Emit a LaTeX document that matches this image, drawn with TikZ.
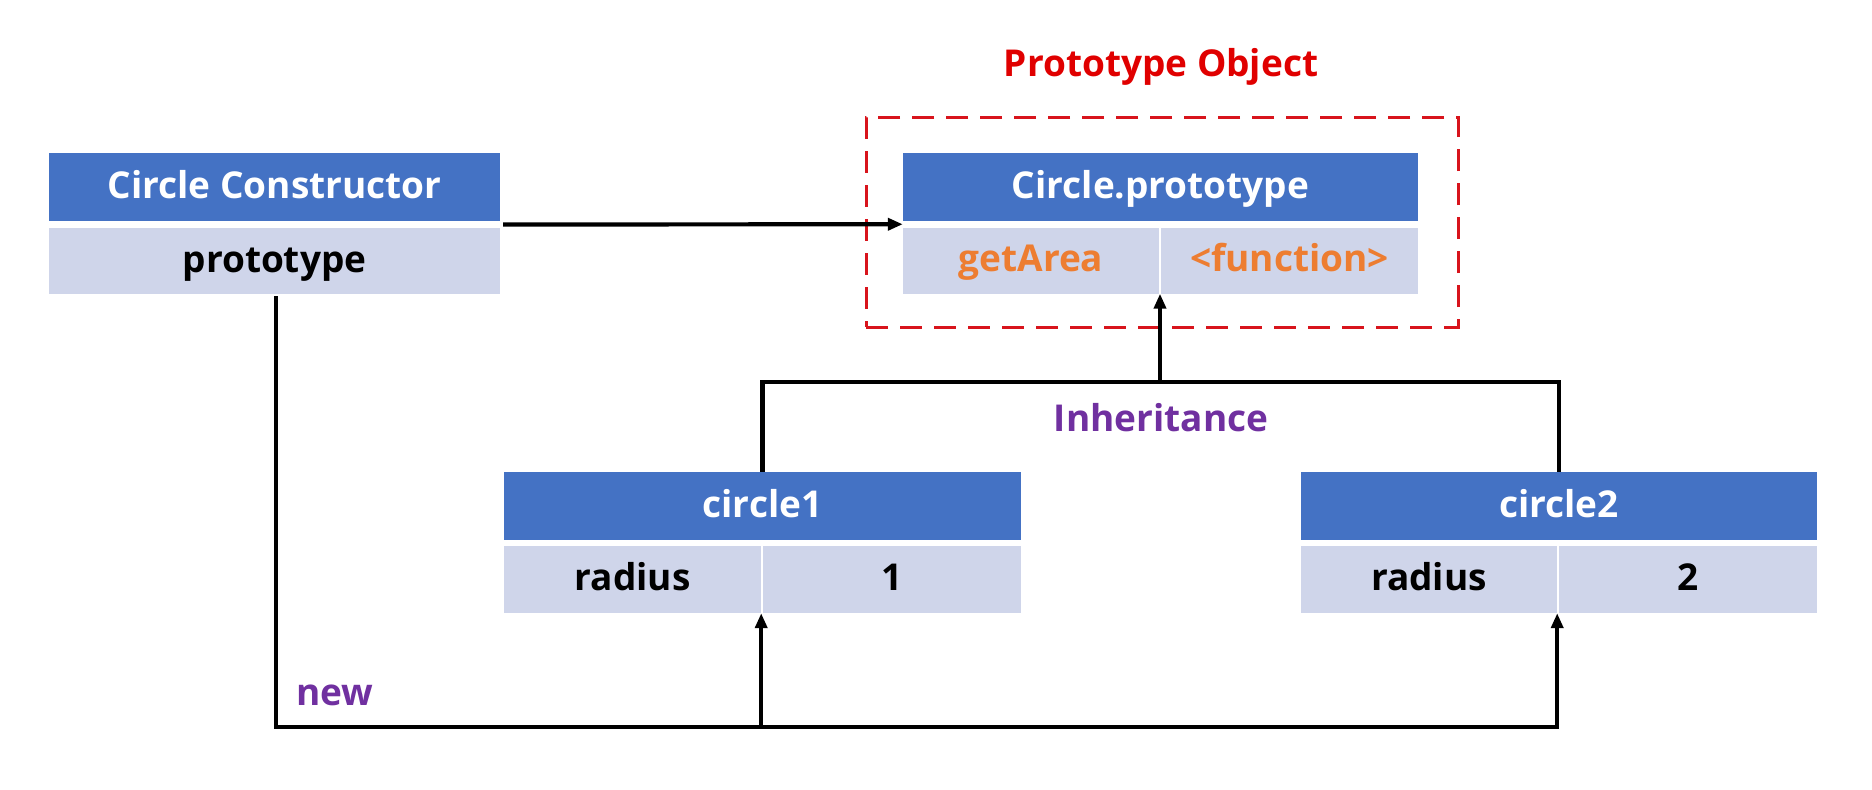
\documentclass[tikz,border=0pt]{standalone}
\usepackage{fontspec}
\setmainfont{Open Sans}
\usetikzlibrary{arrows.meta,calc}
\definecolor{hdrblue}{HTML}{4472C4}
\definecolor{rowfill}{HTML}{CFD5EA}
\definecolor{orangetxt}{HTML}{ED7D31}
\definecolor{lblpurple}{HTML}{7030A0}
\definecolor{titlered}{HTML}{E00000}
\definecolor{dashred}{HTML}{D8141C}
\begin{document}
\begin{tikzpicture}[x=1pt,y=-1pt,
  every node/.style={font=\fontsize{37}{44}\selectfont\bfseries, inner sep=0pt, text height=31pt, text depth=9pt},
  hdr/.style={fill=hdrblue, text=white, minimum height=68pt},
  cell/.style={fill=rowfill, text=black, minimum height=66pt},
  ln/.style={line width=4.2pt, black},
  arr/.style={ln, -{Triangle[length=15pt,width=12pt]}},
]
\useasboundingbox (0,0) rectangle (1872,790);
% Prototype object group
\node[draw=dashred, dash pattern=on 22pt off 12pt, line width=3pt, minimum width=592pt, minimum height=210pt] (pobox) at (1162,222) {};
\node[text=titlered] (potitle) at (1161,65) {Prototype Object};
\node[hdr, minimum width=515pt] (cph) at (1160.5,187) {Circle.prototype};
\node[cell, minimum width=256pt, text=orangetxt] (cpa) at (1031,260.5) {getArea};
\node[cell, minimum width=257pt, text=orangetxt] (cpb) at (1289.5,260.5) {<function>};
% constructor
\node[hdr, minimum width=451pt] (cch) at (274.5,187) {Circle Constructor};
\node[cell, minimum width=451pt] (ccr) at (274.5,261) {prototype};
% circle1
\node[hdr, minimum width=517pt] (c1h) at (762.5,506) {circle1};
\node[cell, minimum width=257pt, minimum height=67pt] (c1a) at (632.5,579.5) {radius};
\node[cell, minimum width=258pt, minimum height=67pt] (c1b) at (892,579.5) {1};
% circle2
\node[hdr, minimum width=516pt] (c2h) at (1559,506) {circle2};
\node[cell, minimum width=256pt, minimum height=67pt] (c2a) at (1429,579.5) {radius};
\node[cell, minimum width=258pt, minimum height=67pt] (c2b) at (1688,579.5) {2};
% labels
\node[text=lblpurple] (inhlbl) at (1161,420) {Inheritance};
\node[text=lblpurple] (newlbl) at (335,694) {new};
% connectors
\draw[arr] ($(cch.south east)!0.5!(ccr.north east)+(3,0)$) -- ($(cph.south west)!0.5!(cpa.north west)$);
\coordinate (inh) at (1160,382);
\draw[ln] (c1h.north) |- (inh) -| (c2h.north);
\draw[arr] (inh) -- (inh |- cpa.south);
\coordinate (newc) at (276,727);
\draw[arr] ($(ccr.south)+(1.5,2)$) |- (newc -| c2a.south east) -- (c2a.south east);
\draw[arr] (newc -| c1a.south east) -- (c1a.south east);
\end{tikzpicture}
\end{document}
